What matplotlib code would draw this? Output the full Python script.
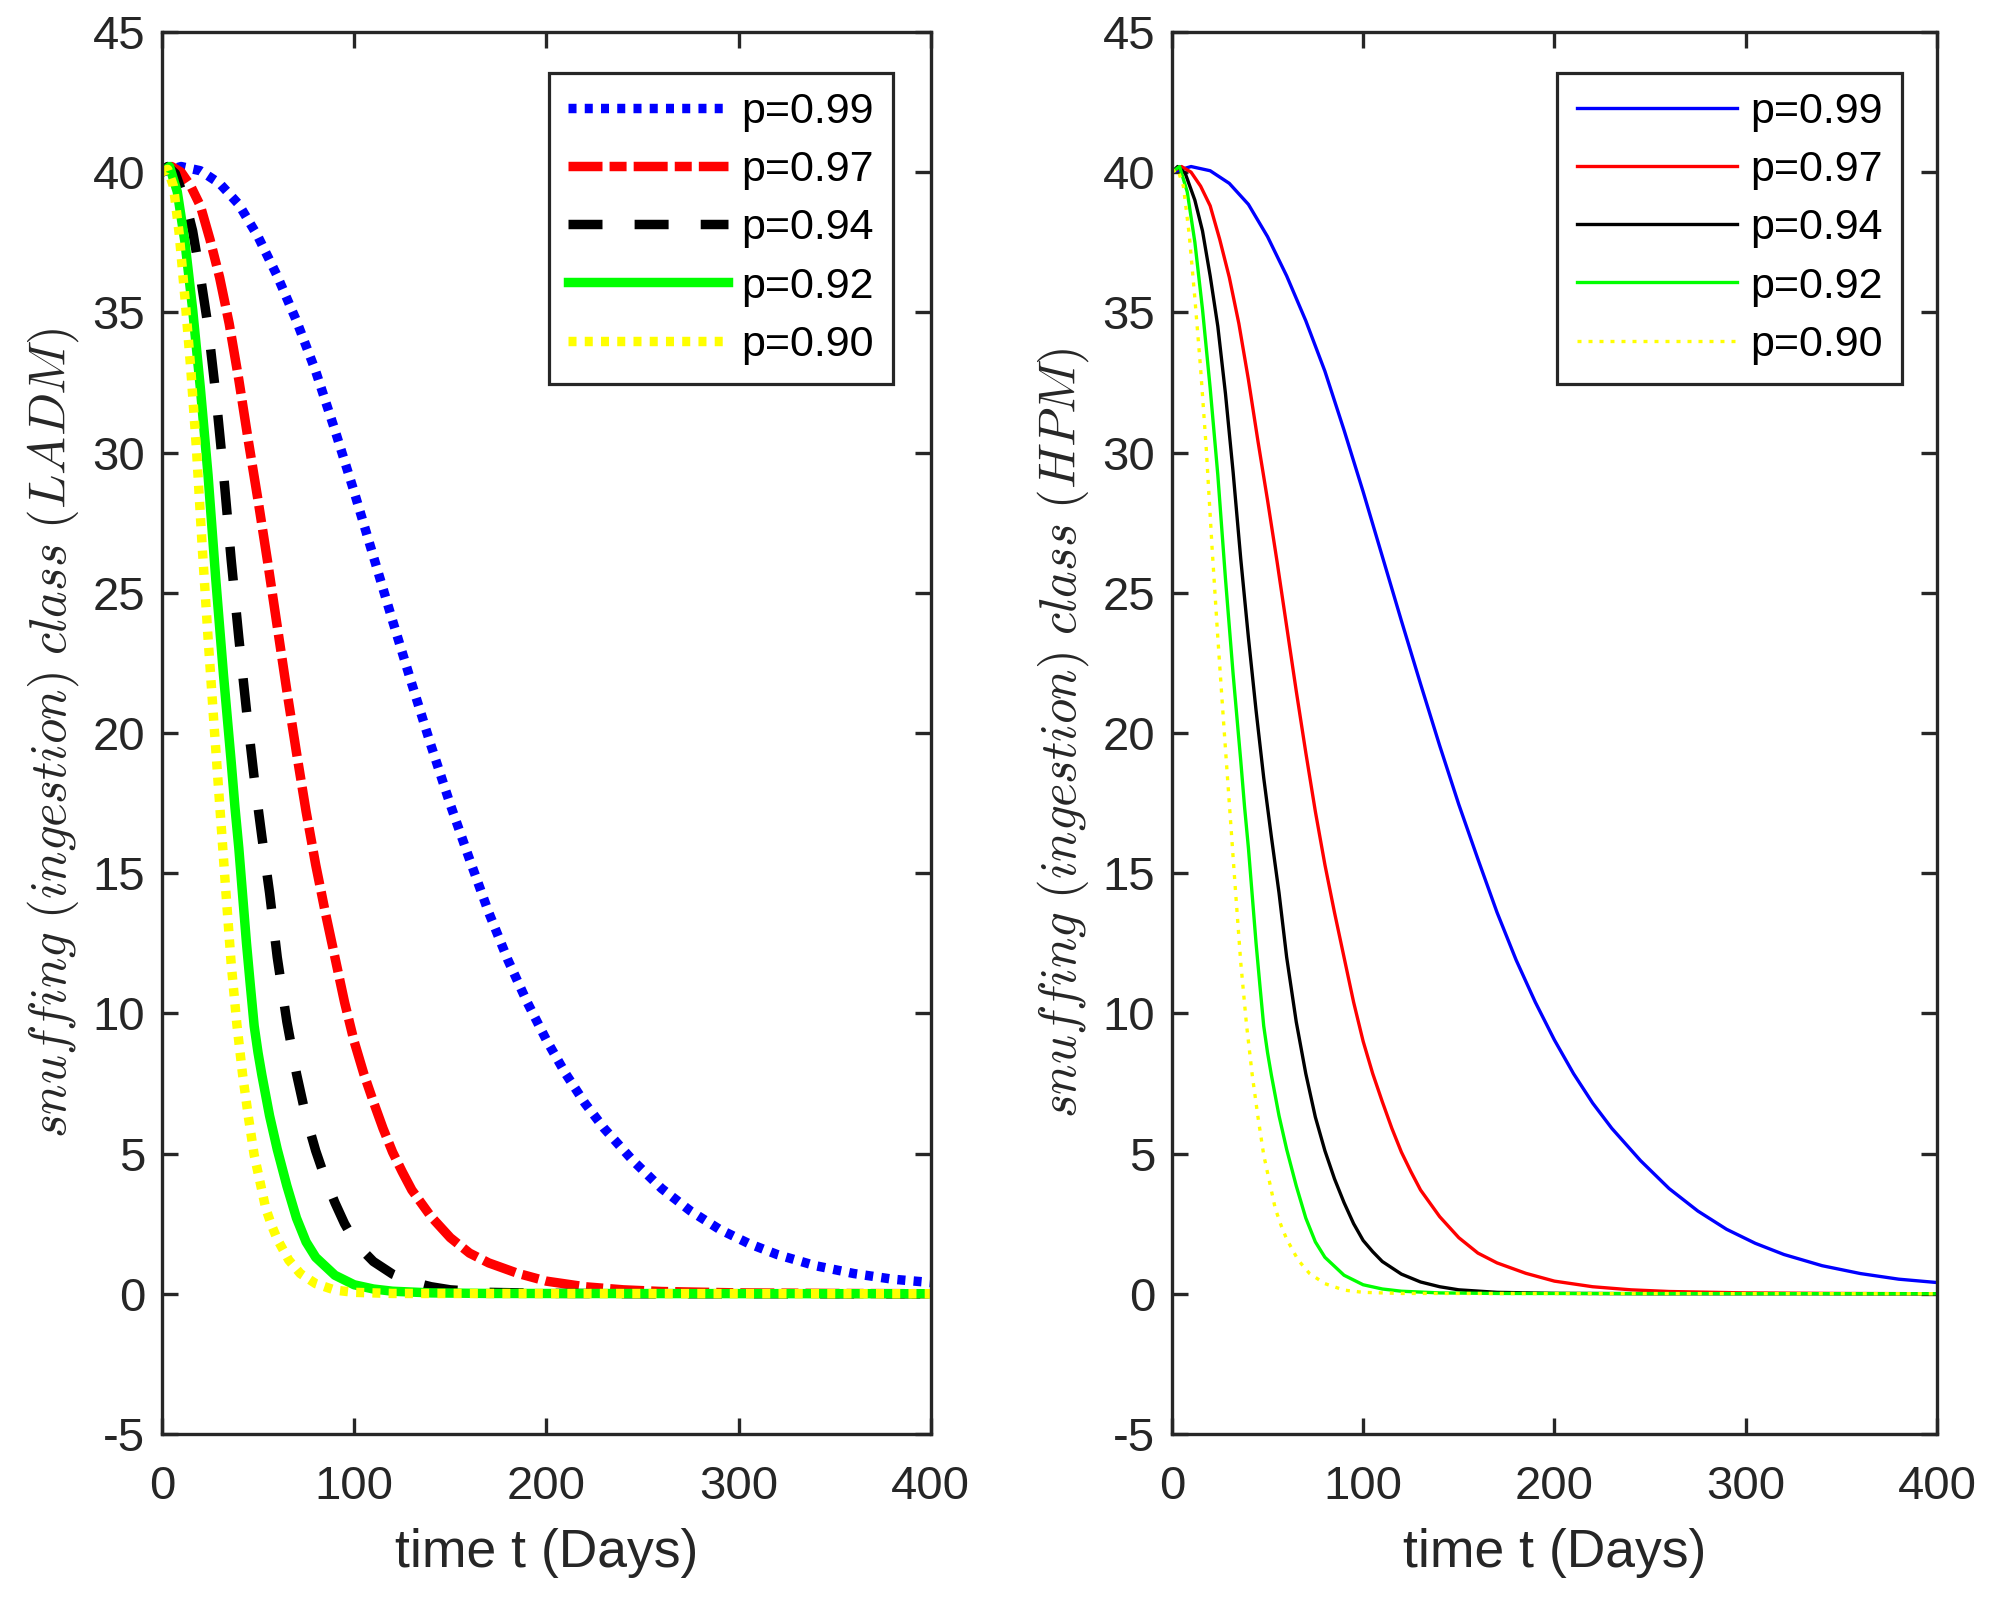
import matplotlib
matplotlib.use("Agg")
import matplotlib.pyplot as plt

plt.rcParams['font.family'] = ['Liberation Sans', 'DejaVu Sans']
plt.rcParams['mathtext.fontset'] = 'cm'
plt.rcParams['axes.unicode_minus'] = False

# values (LADM and HPM panels show the same curves)
labels = ['p=0.99', 'p=0.97', 'p=0.94', 'p=0.92', 'p=0.90']
colors = ['#0000ff', '#ff0000', '#000000', '#00ff00', '#ffff00']

t_99 = [0, 10, 20, 30, 40, 50, 60, 70, 80, 90, 100, 110, 120, 130, 140, 150, 160, 170, 180,
        190, 200, 210, 220, 230, 245, 260, 275, 290, 305, 320, 340, 360, 380, 400]
y_99 = [40, 40.2, 40.05, 39.6, 38.85, 37.7, 36.3, 34.7, 32.9, 30.8, 28.6, 26.3, 24.0, 21.75,
        19.55, 17.45, 15.5, 13.6, 11.9, 10.4, 9.05, 7.85, 6.8, 5.9, 4.75, 3.75, 2.95, 2.3, 1.8,
        1.4, 1.0, 0.72, 0.52, 0.4]

t_97 = [0, 5, 10, 15, 20, 25, 30, 35, 40, 45, 50, 55, 60, 65, 70, 75, 80, 85, 90, 95, 100,
        105, 110, 115, 120, 125, 130, 140, 150, 160, 170, 185, 200, 220, 240, 260, 300, 350, 400]
y_97 = [40, 40.2, 40.0, 39.5, 38.8, 37.6, 36.25, 34.6, 32.6, 30.4, 28.3, 26.1, 23.8, 21.5,
        19.3, 17.2, 15.3, 13.6, 12.0, 10.4, 9.0, 7.85, 6.85, 5.9, 5.05, 4.35, 3.7, 2.75, 2.0,
        1.45, 1.1, 0.73, 0.45, 0.25, 0.14, 0.08, 0.03, 0.01, 0.0]

t_94 = [0, 3, 7, 12, 16, 20, 24, 28, 32, 36, 40, 44, 48, 52, 56, 60, 65, 70, 75, 80, 85, 90,
        95, 100, 105, 110, 120, 130, 140, 150, 170, 200, 250, 400]
y_94 = [40, 40.2, 39.95, 39.0, 37.9, 36.3, 34.5, 32.1, 29.3, 26.2, 23.4, 20.8, 18.4, 16.3,
        14.3, 12.0, 9.7, 7.85, 6.3, 5.1, 4.1, 3.25, 2.5, 1.9, 1.5, 1.15, 0.7, 0.42, 0.25, 0.14,
        0.05, 0.015, 0.0, 0.0]

t_92 = [0, 4, 8, 12, 16, 20, 24, 28, 32, 34, 36, 38, 40, 42, 44, 46, 48, 50, 52, 56, 60, 65,
        70, 75, 80, 90, 100, 110, 120, 140, 170, 400]
y_92 = [40, 40.2, 39.3, 37.5, 35.1, 32.3, 29.2, 25.5, 22.1, 20.55, 19.0, 17.35, 15.9, 14.2,
        12.5, 11.0, 9.55, 8.6, 7.8, 6.35, 5.15, 3.85, 2.7, 1.85, 1.3, 0.66, 0.32, 0.17, 0.09,
        0.03, 0.01, 0.0]

t_90 = [0, 3, 6, 9, 12, 15, 18, 21, 24, 27, 30, 33, 36, 39, 42, 45, 48, 51, 54, 57, 60, 66,
        72, 80, 90, 100, 120, 400]
y_90 = [40, 40.1, 39.5, 37.8, 35.5, 33.0, 30.1, 26.6, 23.4, 20.4, 17.5, 14.6, 11.8, 9.6, 7.8,
        6.3, 4.95, 4.0, 3.05, 2.45, 1.95, 1.2, 0.72, 0.36, 0.13, 0.05, 0.01, 0.0]

series_t = [t_99, t_97, t_94, t_92, t_90]
series_y = [y_99, y_97, y_94, y_92, y_90]

# line styles (dash lengths in units of line width)
thick_styles = [(0, (0.85, 0.87)), (0, (3.6, 0.75, 1.8, 0.75)), (0, (3.6, 3.4)), '-', (0, (0.85, 0.87))]
thin_styles = ['-', '-', '-', '-', (0, (1.2, 2.1))]

ink = '#262626'
fig = plt.figure(figsize=(19.89, 15.97), dpi=100)
ax1 = fig.add_axes([0.0814, 0.1021, 0.3866, 0.8779])
ax2 = fig.add_axes([0.5892, 0.1021, 0.3846, 0.8779])


def style_axes(ax, ylab):
    ax.set_xlim(0, 400)
    ax.set_ylim(-5, 45)
    ax.set_xticks([0, 100, 200, 300, 400])
    ax.set_yticks(range(-5, 46, 5))
    ax.tick_params(direction='in', length=11.5, width=2.4, colors=ink, labelsize=34,
                   top=True, right=True)
    ax.tick_params(axis='x', pad=22)
    ax.tick_params(axis='y', pad=12)
    for sp in ax.spines.values():
        sp.set_linewidth(2.4)
        sp.set_color(ink)
    ax.set_xlabel('time t (Days)', fontsize=38.5, color=ink, labelpad=14)
    ax.set_ylabel(ylab, fontsize=36.5, color=ink, labelpad=8)


for t, y, c, ls, lab in zip(series_t, series_y, colors, thick_styles, labels):
    ax1.plot(t, y, color=c, linestyle=ls, linewidth=6.8, label=lab)
style_axes(ax1, r'$snuffing\ (ingestion)\ class\ (LADM)$')

for t, y, c, ls, lab in zip(series_t, series_y, colors, thin_styles, labels):
    ax2.plot(t, y, color=c, linestyle=ls, linewidth=2.4, label=lab)
style_axes(ax2, r'$snuffing\ (ingestion)\ class\ (HPM)$')

for ax, xr in [(ax1, 0.9506), (ax2, 0.954)]:
    leg = ax.legend(loc='upper right', bbox_to_anchor=(xr, 0.9708), borderaxespad=0,
                    fontsize=31, handlelength=3.72, handletextpad=0.3, labelspacing=0.42,
                    borderpad=0.45, fancybox=False, framealpha=1)
    leg.get_frame().set_edgecolor(ink)
    leg.get_frame().set_linewidth(2.3)

fig.savefig('out.png', dpi=100)
